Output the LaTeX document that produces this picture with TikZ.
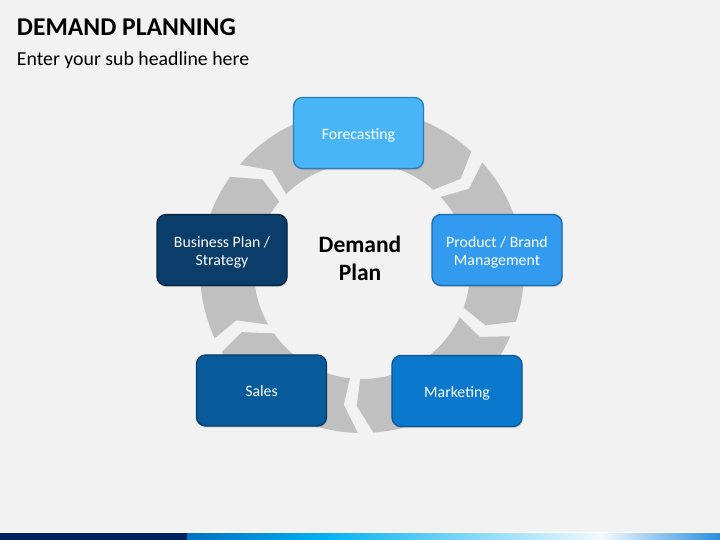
\documentclass[tikz,border=0pt]{standalone}
\usepackage{fontspec}
\setmainfont{Carlito}
\usetikzlibrary{shadows}
\definecolor{bgc}{HTML}{F2F2F2}
\definecolor{ringc}{HTML}{C0C0C0}
\definecolor{fcF}{HTML}{48B5F6}\definecolor{fcD}{HTML}{2A7DB8}
\definecolor{pbF}{HTML}{329BF0}\definecolor{pbD}{HTML}{1A6AAE}
\definecolor{mkF}{HTML}{0A78CD}\definecolor{mkD}{HTML}{06569A}
\definecolor{slF}{HTML}{085A9B}\definecolor{slD}{HTML}{043C6A}
\definecolor{bpF}{HTML}{0B3D6A}\definecolor{bpD}{HTML}{04223E}
\definecolor{navy}{HTML}{002060}
\definecolor{barA}{HTML}{0070C0}
\definecolor{barB}{HTML}{00B0F0}
\definecolor{barC}{HTML}{F4F9FD}
\definecolor{barD}{HTML}{2A8EE0}
\newcommand{\hg}{2.75}
\newcommand{\Ro}{162}
\newcommand{\Rm}{135}
\newcommand{\Ri}{108}
% #1 start centre, #2 start outer lag, #3 start inner lag, #4 end centre, #5 end outer lag, #6 end inner lag
\newcommand{\ringseg}[6]{%
  \fill[ringc] ({#1+#2-\hg}:\Ro) arc[start angle={#1+#2-\hg}, end angle={#4+#5+\hg}, radius=\Ro]
    -- ({#4+\hg}:\Rm) -- ({#4+#6+\hg}:\Ri)
    arc[start angle={#4+#6+\hg}, end angle={#1+#3-\hg}, radius=\Ri]
    -- ({#1-\hg}:\Rm) -- cycle;}
\newcommand{\boxtext}[1]{\raisebox{-2.8bp}[\height][\depth]{\begin{tabular}{@{}c@{}}#1\end{tabular}}}
\begin{document}
\begin{tikzpicture}[x=1bp,y=1bp,
  box/.style={rounded corners=9bp, minimum width=130bp, minimum height=71bp,
    line width=1.3bp, text=white, align=center, inner sep=0pt,
    font=\fontsize{15.8bp}{18.3bp}\selectfont,
    drop shadow={shadow xshift=0.6bp, shadow yshift=-1.6bp, opacity=0.35}},
  ttl/.style={anchor=base west, inner sep=0pt, text=black},
]
\useasboundingbox (0,0) rectangle (720,540);
\fill[bgc] (0,0) rectangle (720,540);

% title
\node[ttl, font=\fontsize{25.6bp}{29bp}\selectfont\bfseries] (title) at (16.7,504) {DEMAND PLANNING};
\node[ttl, font=\fontsize{19.8bp}{24bp}\selectfont] (subtitle) at (16.7,474.3) {Enter your sub headline here};

% ring of arrows
\begin{scope}[shift={(362,269)}]
  \ringseg{134.6}{7.1}{2.7}{40.3}{4.5}{5.7}
  \ringseg{40.3}{4.5}{5.7}{-26.5}{5.5}{3.9}
  \ringseg{-26.5}{5.5}{3.9}{-95}{6.3}{1.3}
  \ringseg{-95}{6.3}{1.3}{-155.8}{3.1}{8.3}
  \ringseg{-155.8}{3.1}{8.3}{-225.4}{7.1}{2.7}
\end{scope}

% centre text
\node[font=\fontsize{23.5bp}{27.5bp}\selectfont\bfseries, align=center, text=black] (dp) at (360,281.5) {Demand\\Plan};

% boxes
\node[box, fill=fcF, draw=fcD] (fc) at (358.5,407) {\boxtext{Forecasting}};
\node[box, fill=pbF, draw=pbD] (pb) at (497,290) {\boxtext{Product / Brand\\Management}};
\node[box, fill=mkF, draw=mkD] (mk) at (457,149) {\boxtext{Marketing}};
\node[box, fill=slF, draw=slD] (sl) at (261.5,149.5) {\boxtext{Sales}};
\node[box, fill=bpF, draw=bpD] (bp) at (222,290) {\boxtext{Business Plan /\\Strategy}};

% bottom bar
\fill[white] (0,6.7) rectangle (720,7.7);
\fill[navy] (0,0) rectangle (187,6.7);
\shade[left color=barA, right color=barB] (187,0) rectangle (321.5,6.7);
\shade[left color=barB, right color=barC] (321,0) rectangle (601.5,6.7);
\shade[left color=barC, right color=barD] (601,0) rectangle (720,6.7);
\end{tikzpicture}
\end{document}
